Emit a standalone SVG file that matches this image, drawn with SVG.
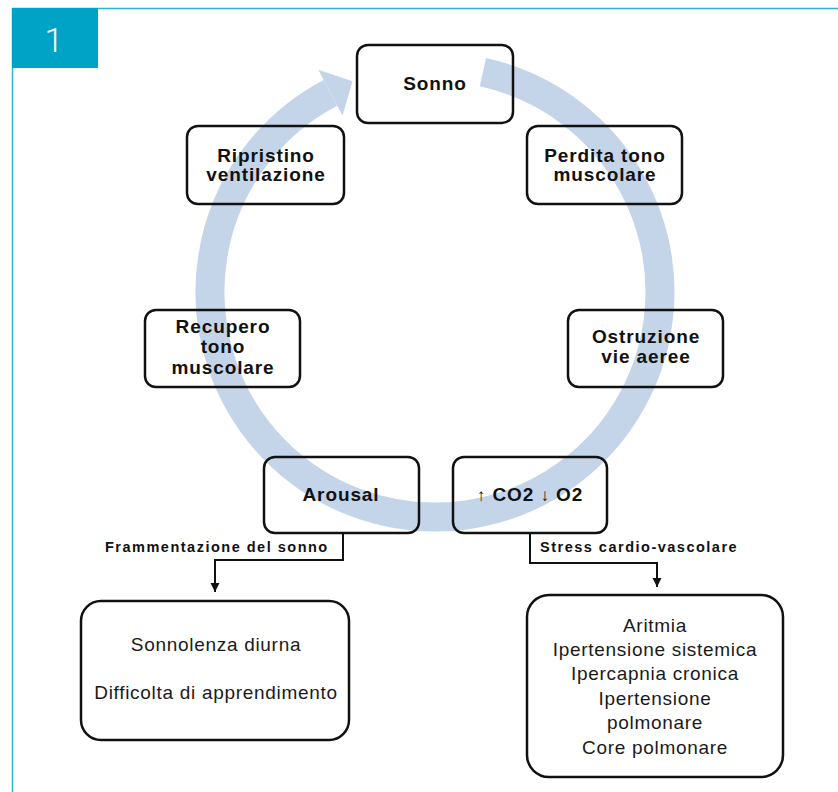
<svg xmlns="http://www.w3.org/2000/svg" width="838" height="792" viewBox="0 0 838 792">
  <defs>
    <style>
      .box { fill: none; stroke: #111111; stroke-width: 2.5; }
      .bt { font-family: "Liberation Sans", Arial, sans-serif; font-weight: bold; font-size: 19px; letter-spacing: 0.9px; fill: #111111; text-anchor: middle; }
      .nt { font-family: "Liberation Sans", Arial, sans-serif; font-weight: normal; font-size: 19px; letter-spacing: 0.7px; fill: #1a1a1a; text-anchor: middle; }
      .lbl { font-family: "Liberation Sans", Arial, sans-serif; font-weight: bold; font-size: 14.5px; letter-spacing: 1.5px; fill: #111111; }
      .conn { fill: none; stroke: #111111; stroke-width: 2; }
    </style>
    <marker id="ah" markerWidth="10" markerHeight="10" refX="9" refY="5" orient="auto" markerUnits="userSpaceOnUse">
      <path d="M0,0.5 L9,5 L0,9.5 Z" fill="#111111"/>
    </marker>
  </defs>

  <rect x="0" y="0" width="838" height="792" fill="#ffffff"/>

  <!-- frame -->
  <g id="frame">
    <path d="M838 8.5 H12.5 V792" fill="none" stroke="#2ab3d3" stroke-width="1.5"/>
    <rect x="12" y="8" width="86" height="60" fill="#00a3c6"/>
    <text x="54" y="52" font-family="Roboto, 'Liberation Sans', sans-serif" font-weight="300" font-size="34" fill="#ffffff" text-anchor="middle">1</text>
  </g>

  <!-- cycle arrow -->
  <g id="cycle">
    <path d="M482.9 72.2 A225 225 0 1 1 330.4 92.8" fill="none" stroke="#c4d5ea" stroke-width="29"/>
    <polygon points="318.3,69.8 352.5,81.2 342.5,115.8" fill="#c4d5ea"/>
  </g>

  <!-- connectors -->
  <g id="connectors">
    <path class="conn" d="M343 533 V560 H215 V592" marker-end="url(#ah)"/>
    <path class="conn" d="M530 533 V563 H657 V587" marker-end="url(#ah)"/>
    <text class="lbl" x="105" y="552">Frammentazione del sonno</text>
    <text class="lbl" x="540" y="552">Stress cardio-vascolare</text>
  </g>

  <g id="sonno">
    <rect class="box" x="357" y="45" width="156" height="78" rx="11"/>
    <text class="bt" x="435" y="90">Sonno</text>
  </g>
  <g id="ripristino">
    <rect class="box" x="187" y="126" width="157" height="78" rx="11"/>
    <text class="bt" x="266" y="162">Ripristino</text>
    <text class="bt" x="266" y="181">ventilazione</text>
  </g>
  <g id="perdita">
    <rect class="box" x="527" y="126" width="155" height="78" rx="11"/>
    <text class="bt" x="605" y="162">Perdita tono</text>
    <text class="bt" x="605" y="181">muscolare</text>
  </g>
  <g id="recupero">
    <rect class="box" x="145" y="310" width="155" height="77" rx="11"/>
    <text class="bt" x="223" y="333">Recupero</text>
    <text class="bt" x="223" y="353">tono</text>
    <text class="bt" x="223" y="374">muscolare</text>
  </g>
  <g id="ostruzione">
    <rect class="box" x="568" y="310" width="155" height="77" rx="11"/>
    <text class="bt" x="646" y="343">Ostruzione</text>
    <text class="bt" x="646" y="363">vie aeree</text>
  </g>
  <g id="arousal">
    <rect class="box" x="264" y="457" width="155" height="76" rx="11"/>
    <text class="bt" x="341" y="501">Arousal</text>
  </g>
  <g id="co2">
    <rect class="box" x="453" y="457" width="154" height="76" rx="11"/>
    <text class="bt" x="530" y="501"><tspan font-weight="normal" font-size="17">↑</tspan> CO2 <tspan font-weight="normal" font-size="17">↓</tspan> O2</text>
  </g>
  <g id="effetti-sonno">
    <rect class="box" x="81" y="601" width="268" height="139" rx="20"/>
    <text class="nt" x="216" y="651">Sonnolenza diurna</text>
    <text class="nt" x="216" y="699">Difficolta di apprendimento</text>
  </g>
  <g id="effetti-cardio">
    <rect class="box" x="527" y="595" width="256" height="182" rx="22"/>
    <text class="nt" x="655" y="632">Aritmia</text>
    <text class="nt" x="655" y="656">Ipertensione sistemica</text>
    <text class="nt" x="655" y="680">Ipercapnia cronica</text>
    <text class="nt" x="655" y="705">Ipertensione</text>
    <text class="nt" x="655" y="729">polmonare</text>
    <text class="nt" x="655" y="754">Core polmonare</text>
  </g>
</svg>
